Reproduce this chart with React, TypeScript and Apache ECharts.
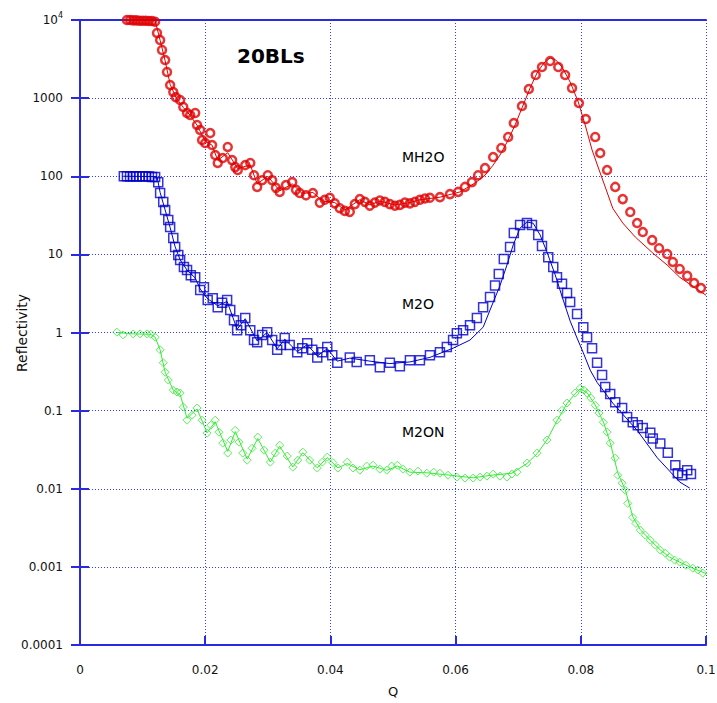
import React, { useEffect, useRef } from "react";
import * as echarts from "echarts";

// ---- MH2O (red) measured ----
const qRed = [0.0075,0.008,0.0085,0.009,0.0095,0.010,0.0105,0.011,0.0115,0.012,
  0.0123,0.0128,0.0131,0.0136,0.0139,0.0144,0.0149,0.0153,0.0160,0.0165,
  0.0171,0.0176,0.0184,0.0187,0.0192,0.0195,0.0200,0.0208,0.0211,0.0216,0.0220,0.0228,0.0236,0.0243,0.0248,0.0252,
  0.0264,0.0272,0.0278,0.0283,0.0291,0.0300,0.0307,0.0313,0.0319,0.0329,0.0339,0.0345,0.0351,0.0361,0.0372,
  0.0383,0.0391,0.0399,0.0407,0.0415,0.0423,0.0431,0.0439,0.0447,0.0455,0.0463,0.0471,0.0479,0.0487,0.0495,
  0.0503,0.0511,0.0519,0.0527,0.0535,0.0543,0.0551,0.0559,
  0.0575,0.0591,0.0604,0.0615,0.0626,0.0636,0.0647,0.0660,0.0673,0.0684,0.0693,0.0706,0.0717,0.0728,0.0738,
  0.0751,0.0764,0.0775,0.0786,0.0797,0.0808,0.0823,0.0831,0.0842,0.0855,0.0867,0.0879,0.0890,0.0899,0.0914,
  0.0925,0.0938,0.0947,0.0958,0.0970,0.0981,0.0992];
const rRed = [10000,10000,9900,9900,9800,9800,9800,9700,9700,9500,
  6820,5540,4130,3075,2160,1470,1197,1030,946,770,
  645,608,645,453,391,291,266,357,251,187,148,171,237,161,131,120,
  139,148,103,73,89,103,89,71,63,77,84,67,61,57,61,
  46,50,53,45,39,36,35,44,51,47,42,46,49,47,44,
  42,43,46,45,47,50,52,53,
  54,59,63,73,84,103,127,176,230,318,480,792,1308,1977,2500,
  2985,2500,1977,1346,865,540,318,198,120,73,51,34.8,25.2,19.3,15.2,
  12.0,10.1,8.0,6.5,5.3,4.3,3.7];

// ---- MH2O (red) fit ----
const qRedFit = [0.0075,0.012,0.0128,0.0136,0.0144,0.0153,0.0165,0.0176,0.0187,0.0200,0.0211,0.0220,0.0236,0.0252,
  0.0272,0.0283,0.0300,0.0319,0.0339,0.0355,0.0372,0.0388,0.0407,0.0423,0.0447,0.0463,0.0479,0.0503,0.0527,0.0543,
  0.0575,0.0607,0.0631,0.0647,0.0660,0.0671,0.0684,0.0695,0.0706,0.0719,0.0730,0.0741,0.0751,0.0760,0.0770,0.0783,
  0.0796,0.0807,0.0818,0.0831,0.0839,0.0851,0.0867,0.0887,0.0915,0.0938,0.0958,0.0981,0.1];
const rRedFit = [10000,9800,5500,3000,1500,1030,760,600,450,280,250,160,200,125,
  140,80,100,65,80,60,62,48,46,37,50,43,48,43,46,50,
  54,63,82,103,139,187,291,453,747,1346,2096,2815,3262,3075,2500,1607,
  891,453,217,110,73,39,25.2,16.7,10.4,7.3,5.1,3.8,3.0];

// ---- M2O (blue) measured ----
const qBlue = [0.0070,0.0075,0.0080,0.0085,0.0090,0.0095,0.0100,0.0105,0.0110,0.0115,0.0120,
  0.0125,0.0128,0.0133,0.0136,0.0141,0.0144,0.0149,0.0152,0.0157,0.0160,0.0166,0.0171,0.0177,0.0184,
  0.0192,0.0198,0.0204,0.0212,0.0220,0.0227,0.0235,0.0240,0.0246,0.0251,0.0257,0.0264,0.0272,0.0278,
  0.0283,0.0291,0.0299,0.0307,0.0315,0.0321,0.0327,0.0335,0.0347,0.0355,0.0363,0.0371,0.0379,0.0387,
  0.0395,0.0403,0.0411,0.0431,0.0442,0.0463,0.0479,0.0495,0.0511,0.0527,0.0543,0.0559,0.0575,0.0586,
  0.0596,0.0602,0.0612,0.0623,0.0634,0.0644,0.0655,0.0663,0.0669,0.0677,0.0687,0.0693,0.0703,0.0714,
  0.0722,0.0732,0.0738,0.0748,0.0756,0.0762,0.0770,0.0778,0.0783,0.0794,0.0804,0.0810,0.0818,0.0826,
  0.0834,0.0839,0.0847,0.0855,0.0866,0.0874,0.0883,0.0891,0.0899,0.0911,0.0915,0.0927,0.0939,0.0951,
  0.0955,0.0962,0.0970,0.0976];
const rBlue = [100,100,99,100,99,100,99,100,99,98,98,
  84,61,46.7,36.9,27.5,22.4,16.2,12.4,9.8,8.45,6.9,6.3,5.4,5.1,
  3.5,3.8,2.6,2.75,2.1,2.4,2.6,1.94,1.44,1.07,1.24,1.53,1.07,0.80,
  0.75,0.93,1.01,0.80,0.60,0.69,0.85,0.69,0.56,0.63,0.73,0.60,0.48,0.56,
  0.65,0.51,0.41,0.48,0.42,0.44,0.36,0.41,0.37,0.44,0.44,0.51,0.56,0.65,
  0.80,0.98,1.07,1.24,1.53,2.1,2.84,4.0,5.6,8.7,12.4,18.8,23.7,25.2,
  23.7,17.7,12.8,9.2,6.9,5.1,4.2,3.2,2.45,1.72,1.17,0.87,0.63,0.41,
  0.285,0.20,0.163,0.128,0.108,0.083,0.071,0.065,0.060,0.052,0.044,0.038,0.029,0.020,
  0.0158,0.0149,0.0173,0.0154];

// ---- M2O (blue) fit ----
const qBlueFit = [0.0069,0.0123,0.0128,0.0136,0.0144,0.0152,0.0160,0.0171,0.0184,0.0192,0.0204,0.0220,0.0235,
  0.0251,0.0264,0.0283,0.0299,0.0315,0.0327,0.0347,0.0363,0.0379,0.0395,0.0411,0.0431,0.0463,0.0495,0.0527,
  0.0559,0.0596,0.0623,0.0644,0.0655,0.0671,0.0682,0.0692,0.0703,0.0714,0.0724,0.0735,0.0746,0.0759,0.0770,
  0.0783,0.0794,0.0804,0.0815,0.0826,0.0851,0.0890,0.0922,0.0958,0.0974];
const rBlueFit = [100,99,62,37,22,12.5,8.5,6.3,5.0,3.6,2.7,2.2,2.5,
  1.1,1.5,0.78,1.0,0.62,0.82,0.57,0.7,0.5,0.62,0.43,0.47,0.43,0.40,0.42,
  0.48,0.63,0.80,1.17,1.94,4.0,7.3,13.2,21.7,26,25,17.7,10.7,5.5,2.9,
  1.4,0.85,0.55,0.33,0.23,0.125,0.056,0.025,0.0122,0.0102];

// ---- M2ON (green) measured ----
const qGreen = [0.0059,0.0069,0.0085,0.0096,0.0107,0.0113,0.0120,0.0128,0.0133,0.0136,0.0141,0.0149,0.0155,
  0.0160,0.0165,0.0171,0.0179,0.0187,0.0195,0.0203,0.0209,0.0216,0.0222,0.0228,0.0236,0.0241,0.0248,0.0254,
  0.0260,0.0267,0.0275,0.0284,0.0294,0.0304,0.0312,0.0319,0.0331,0.0340,0.0348,0.0356,0.0367,0.0379,0.0387,
  0.0395,0.0404,0.0412,0.0427,0.0436,0.0447,0.0458,0.0468,0.0479,0.0490,0.0498,0.0507,0.0516,0.0527,0.0540,
  0.0554,0.0565,0.0575,0.0588,0.0602,0.0615,0.0628,0.0639,0.0650,0.0660,0.0671,0.0682,0.0690,0.0698,
  0.0714,0.0730,0.0746,0.0762,0.0770,0.0778,0.0791,0.0799,0.0805,0.0810,0.0816,0.0823,0.0829,0.0836,0.0842,
  0.0847,0.0855,0.0859,0.0866,0.0871,0.0875,0.0883,0.0888,0.0895,0.0903,0.0911,0.0919,0.0927,0.0935,0.0942,
  0.0950,0.0958,0.0968,0.0979,0.0987,0.0995];
const rGreen = [1.01,0.93,0.96,0.96,0.96,0.95,0.87,0.60,0.41,0.31,0.246,0.183,0.173,
  0.168,0.111,0.0755,0.0875,0.108,0.0755,0.0515,0.065,0.0755,0.053,0.0384,0.0286,0.042,0.056,0.0395,
  0.0286,0.0232,0.033,0.0458,0.0312,0.0219,0.0286,0.0361,0.0262,0.0189,0.0232,0.0294,0.0232,0.0184,0.0219,
  0.0254,0.0216,0.0184,0.0219,0.0184,0.0173,0.0195,0.020,0.0178,0.0173,0.0195,0.020,0.0178,0.0163,0.0168,
  0.0158,0.0163,0.0158,0.0149,0.0141,0.0137,0.0137,0.0141,0.0145,0.0154,0.0145,0.0141,0.0154,0.0163,
  0.0213,0.0286,0.042,0.0755,0.101,0.125,0.168,0.194,0.183,0.168,0.145,0.117,0.093,0.071,0.053,
  0.0384,0.0247,0.0149,0.0118,0.0096,0.0065,0.0043,0.0036,0.00295,0.00255,0.0022,0.0019,0.00164,0.0015,0.00133,
  0.00122,0.00115,0.00105,0.00096,0.00091,0.00083];

// ---- M2ON (green) fit ----
const qGreenFit = [0.0059,0.0085,0.0113,0.0120,0.0128,0.0136,0.0149,0.0160,0.0171,0.0187,0.0203,0.0216,0.0236,
  0.0248,0.0267,0.0284,0.0304,0.0319,0.0340,0.0356,0.0379,0.0395,0.0412,0.0427,0.0447,0.0468,0.0490,0.0507,
  0.0527,0.0554,0.0588,0.0628,0.0660,0.0690,0.0714,0.0730,0.0746,0.0762,0.0778,0.0791,0.0799,0.0810,0.0823,
  0.0836,0.0847,0.0859,0.0871,0.0883,0.0895,0.0911,0.0927,0.0942,0.0958,0.0979,0.1];
const rGreenFit = [1.0,0.96,0.95,0.87,0.6,0.31,0.183,0.16,0.08,0.105,0.052,0.072,0.03,
  0.054,0.024,0.044,0.022,0.035,0.019,0.029,0.0185,0.025,0.0185,0.021,0.0175,0.0195,0.0172,0.0195,
  0.0163,0.016,0.015,0.0138,0.015,0.0158,0.021,0.028,0.042,0.074,0.123,0.165,0.19,0.17,0.118,
  0.072,0.039,0.016,0.0097,0.0044,0.003,0.0022,0.00165,0.00133,0.00115,0.00096,0.00082];

const xTicks = [0, 0.02, 0.04, 0.06, 0.08, 0.1];
const yTickLabels = ["0.0001", "0.001", "0.01", "0.1", "1", "10", "100", "1000", "10^4"];

const RED = "#e00000";
const BLUE = "#0000cc";
const GREEN = "#33ee33";
const FRAME = "#2a2ae0";
const GRID = "#3a3aff";
const FONT = "DejaVu Sans";

const zip = (q: number[], r: number[]) => q.map((v, i) => [v, r[i]]);

export default function App() {
  const ref = useRef<HTMLDivElement>(null);
  useEffect(() => {
    if (!ref.current) return;
    const chart = echarts.init(ref.current, null, { renderer: "svg" });
    const yLabel = (v: number) => {
      const e = Math.round(Math.log10(v));
      const idx = e + 4;
      const t = yTickLabels[idx];
      if (t === "10^4") return "{a|10}{b|4}";
      return t;
    };
    const frameAxis = {
      axisLine: { show: true, lineStyle: { color: FRAME, width: 2 } },
    };
    chart.setOption({
      animation: false,
      backgroundColor: "#ffffff",
      textStyle: { fontFamily: FONT },
      grid: { left: 80, right: 11, top: 20, bottom: 58, containLabel: false, outerBoundsMode: "none" },
      xAxis: [
        {
          type: "value",
          min: xTicks[0],
          max: xTicks[xTicks.length - 1],
          interval: 0.02,
          name: "Q",
          nameLocation: "middle",
          nameGap: 40,
          nameTextStyle: { fontFamily: FONT, fontSize: 13, color: "#111" },
          ...frameAxis,
          axisTick: { show: true, inside: true, length: 9, lineStyle: { color: FRAME, width: 2 } },
          axisLabel: {
            fontFamily: FONT, fontSize: 12, color: "#111", margin: 19,
            formatter: (v: number) => String(Math.round(v * 100) / 100),
          },
          splitLine: { show: true, lineStyle: { color: GRID, type: [1, 2], width: 1 } },
        },
        {
          type: "value",
          position: "top",
          min: 0,
          max: 0.1,
          interval: 0.02,
          ...frameAxis,
          axisTick: { show: false },
          axisLabel: { show: false },
          splitLine: { show: false },
        },
      ],
      yAxis: [
        {
          type: "log",
          logBase: 10,
          min: 0.0001,
          max: 10000,
          splitNumber: 8,
          ...frameAxis,
          axisTick: { show: true, inside: true, length: 9, lineStyle: { color: FRAME, width: 2 } },
          axisLabel: {
            fontFamily: FONT, fontSize: 12, color: "#111", margin: 17,
            formatter: yLabel,
            rich: {
              a: { fontFamily: FONT, fontSize: 12, color: "#111" },
              b: { fontFamily: FONT, fontSize: 8, color: "#111", padding: [0, 0, 9, 0] },
            },
          },
          splitLine: { show: true, lineStyle: { color: GRID, type: [1, 2], width: 1 } },
        },
        {
          type: "log",
          logBase: 10,
          min: 0.0001,
          max: 10000,
          splitNumber: 8,
          position: "right",
          ...frameAxis,
          axisTick: { show: true, inside: true, length: 9, lineStyle: { color: FRAME, width: 2 } },
          axisLabel: { show: false },
          splitLine: { show: false },
        },
      ],
      graphic: [
        {
          type: "text", x: 22, y: 333, rotation: Math.PI / 2,
          style: { text: "Reflectivity", font: `14px "${FONT}"`, fill: "#111", align: "center", verticalAlign: "middle" },
        },
        { type: "text", left: 237, top: 46, style: { text: "20BLs", font: `bold 20px "${FONT}"`, fill: "#000" } },
        { type: "text", left: 402, top: 150, style: { text: "MH2O", font: `14px "${FONT}"`, fill: "#000" } },
        { type: "text", left: 402, top: 297, style: { text: "M2O", font: `14px "${FONT}"`, fill: "#000" } },
        { type: "text", left: 402, top: 425, style: { text: "M2ON", font: `14px "${FONT}"`, fill: "#000" } },
      ],
      series: [
        { type: "line", data: zip(qRedFit, rRedFit), showSymbol: false, lineStyle: { color: RED, width: 1 }, z: 2 },
        { type: "line", data: zip(qBlueFit, rBlueFit), showSymbol: false, lineStyle: { color: BLUE, width: 1 }, z: 2 },
        { type: "line", data: zip(qGreenFit, rGreenFit), showSymbol: false, lineStyle: { color: GREEN, width: 1 }, z: 2 },
        {
          type: "scatter", data: zip(qRed, rRed), symbol: "circle", symbolSize: 8,
          itemStyle: { color: "rgba(255,255,255,0)", borderColor: RED, borderWidth: 2.5 }, z: 3,
        },
        {
          type: "scatter", data: zip(qBlue, rBlue), symbol: "rect", symbolSize: 9,
          itemStyle: { color: "rgba(255,255,255,0)", borderColor: BLUE, borderWidth: 1.5 }, z: 3,
        },
        {
          type: "scatter", data: zip(qGreen, rGreen), symbol: "diamond", symbolSize: 8,
          itemStyle: { color: "rgba(255,255,255,0)", borderColor: GREEN, borderWidth: 1 }, z: 3,
        },
      ],
    });
    return () => chart.dispose();
  }, []);
  return <div ref={ref} style={{ width: 717, height: 703, position: "absolute", left: 0, top: 0 }} />;
}
